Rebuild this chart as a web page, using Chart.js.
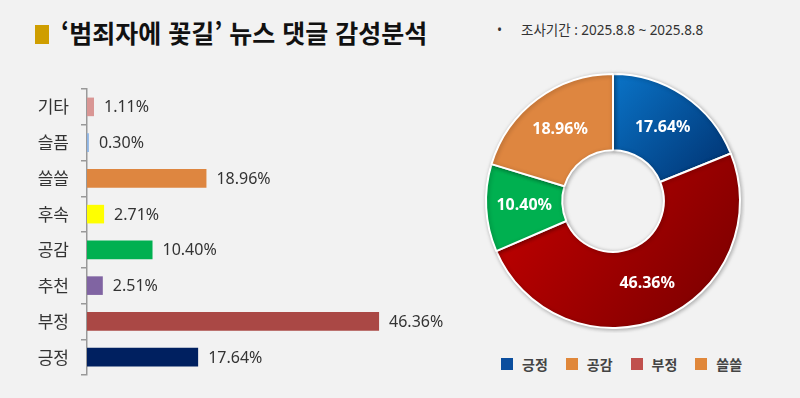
<!DOCTYPE html>
<html lang="ko">
<head>
<meta charset="utf-8">
<script src="https://cdn.jsdelivr.net/npm/chart.js@4"></script>
<style>
    body { margin: 0; background: #f2f2f2; }
    #page { position: relative; width: 800px; height: 398px; overflow: hidden; background: #f2f2f2;
        font-family: "Noto Sans", "Noto Sans CJK KR", sans-serif; }
    #titleMark { position: absolute; left: 35px; top: 25px; width: 14px; height: 19px; background: #cf9e00; }
    #title { position: absolute; left: 61px; top: 14px; line-height: 36px; font-size: 25px; font-weight: 700;
        color: #111; font-family: "Noto Sans CJK KR", sans-serif; white-space: nowrap; }
    #period { position: absolute; left: 497px; top: 20px; line-height: 20px; font-size: 13.5px; color: #333; white-space: nowrap; }
    #period .dot { display: inline-block; width: 24px; }
    #barChart { position: absolute; left: 0; top: 0; }
    #donutChart { position: absolute; left: 481px; top: 69px; }
    #legend { position: absolute; left: 501px; top: 355px; display: flex; gap: 18px; }
    #legend .item { display: flex; align-items: center; gap: 9px; font-size: 14px; font-weight: 700; color: #444;
        font-family: "Noto Sans CJK KR", sans-serif; line-height: 18px; }
    #legend .box { width: 12px; height: 12px; }
</style>
</head>
<body>
<div id="page">
    <div id="titleMark"></div>
    <div id="title">‘범죄자에 꽃길’ 뉴스 댓글 감성분석</div>
    <div id="period"><span class="dot">•</span>조사기간 : 2025.8.8 ~ 2025.8.8</div>
    <canvas id="barChart" width="480" height="398"></canvas>
    <canvas id="donutChart" width="264" height="264"></canvas>
    <div id="legend"></div>
</div>
<script>
// bar chart data (top to bottom)
const barLabels = ['기타', '슬픔', '쓸쓸', '후속', '공감', '추천', '부정', '긍정'];
const barValues = [1.11, 0.30, 18.96, 2.71, 10.40, 2.51, 46.36, 17.64];
const barColors = ['#d99694', '#8eb4e3', '#de8640', '#ffff00', '#00b050', '#8064a2', '#aa4845', '#002060'];

// doughnut data (clockwise from top)
const donutLabels = ['긍정', '부정', '공감', '쓸쓸'];
const donutValues = [17.64, 46.36, 10.40, 18.96];
const donutGradients = [['#0a74c8', '#00306e'], ['#c80000', '#760000'], ['#00b050', '#00b050'], ['#de8640', '#de8640']];

// legend as shown in the picture
const legendLabels = ['긍정', '공감', '부정', '쓸쓸'];
const legendColors = ['#0b4e9e', '#e0873a', '#c0504d', '#e0873a'];

const FONT = '"Noto Sans", "Noto Sans CJK KR", sans-serif';

const barValueLabels = {
    id: 'barValueLabels',
    afterDatasetsDraw(chart) {
        const ctx = chart.ctx;
        ctx.save();
        ctx.font = '16px ' + FONT;
        ctx.fillStyle = '#333';
        ctx.textBaseline = 'middle';
        chart.getDatasetMeta(0).data.forEach((bar, i) => {
            ctx.fillText(barValues[i].toFixed(2) + '%', bar.x + 10, bar.y + 1);
        });
        ctx.restore();
    }
};

new Chart(document.getElementById('barChart'), {
    type: 'bar',
    data: {
        labels: barLabels,
        datasets: [{
            data: barValues,
            backgroundColor: barColors,
            barPercentage: 0.52,
            categoryPercentage: 1,
        }]
    },
    options: {
        indexAxis: 'y',
        responsive: false,
        animation: false,
        layout: { padding: { left: 0, top: 89, bottom: 23, right: 15 } },
        plugins: { legend: { display: false }, tooltip: { enabled: false } },
        scales: {
            x: { display: false, min: 0, max: 60 },
            y: {
                grid: { drawOnChartArea: false, color: '#999', lineWidth: 1.5, tickLength: 6, offset: true },
                border: { color: '#999', width: 1.5 },
                ticks: { color: '#333', font: { size: 17, family: '"Noto Sans CJK KR", sans-serif' }, padding: 12 },
                afterFit(scale) { scale.width = 87; }
            }
        }
    },
    plugins: [barValueLabels]
});

// gradient for each slice, spanning the slice's own bounding box
const sliceGradient = (context) => {
    const chart = context.chart;
    const area = chart.chartArea;
    const i = context.dataIndex;
    const [c0, c1] = donutGradients[i];
    if (!area || c0 === c1) return c0;
    const cx = (area.left + area.right) / 2;
    const cy = (area.top + area.bottom) / 2;
    const r = Math.min(area.width, area.height) / 2;
    const total = donutValues.reduce((a, b) => a + b, 0);
    const before = donutValues.slice(0, i).reduce((a, b) => a + b, 0);
    const a0 = -Math.PI / 2 + 2 * Math.PI * before / total;
    const a1 = a0 + 2 * Math.PI * donutValues[i] / total;
    let minX = Infinity, minY = Infinity, maxX = -Infinity, maxY = -Infinity;
    for (let k = 0; k <= 20; k++) {
        const a = a0 + (a1 - a0) * k / 20;
        [r, r * 0.4].forEach(rr => {
            const px = cx + rr * Math.cos(a), py = cy + rr * Math.sin(a);
            minX = Math.min(minX, px); maxX = Math.max(maxX, px);
            minY = Math.min(minY, py); maxY = Math.max(maxY, py);
        });
    }
    const g = chart.ctx.createLinearGradient(minX, minY, maxX, maxY);
    g.addColorStop(0, c0);
    g.addColorStop(1, c1);
    return g;
};

const donutShadow = {
    id: 'donutShadow',
    beforeDatasetsDraw(chart) {
        const ctx = chart.ctx;
        ctx.save();
        ctx.shadowColor = 'rgba(0,0,0,0.28)';
        ctx.shadowBlur = 4;
        ctx.shadowOffsetX = 1;
        ctx.shadowOffsetY = 1;
    },
    afterDatasetsDraw(chart) {
        chart.ctx.restore();
        const ctx = chart.ctx;
        ctx.save();
        ctx.font = 'bold 16px ' + FONT;
        ctx.fillStyle = '#fff';
        ctx.textAlign = 'center';
        ctx.textBaseline = 'middle';
        chart.getDatasetMeta(0).data.forEach((arc, i) => {
            const pos = arc.tooltipPosition();
            ctx.fillText(donutValues[i].toFixed(2) + '%', pos.x, pos.y);
        });
        ctx.restore();
    }
};

new Chart(document.getElementById('donutChart'), {
    type: 'doughnut',
    data: {
        labels: donutLabels,
        datasets: [{
            data: donutValues,
            backgroundColor: sliceGradient,
            borderColor: '#fff',
            borderWidth: 2,
        }]
    },
    options: {
        responsive: false,
        animation: false,
        cutout: '40%',
        layout: { padding: 4 },
        plugins: { legend: { display: false }, tooltip: { enabled: false } }
    },
    plugins: [donutShadow]
});

const legendEl = document.getElementById('legend');
legendLabels.forEach((label, i) => {
    const item = document.createElement('div');
    item.className = 'item';
    item.innerHTML = '<span class="box" style="background:' + legendColors[i] + '"></span><span>' + label + '</span>';
    legendEl.appendChild(item);
});
</script>
</body>
</html>
